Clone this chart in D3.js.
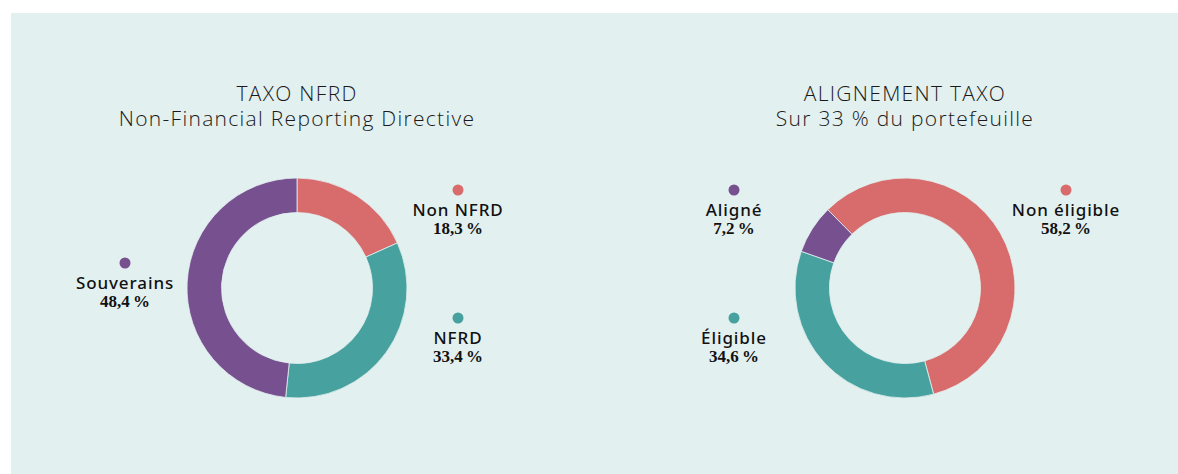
<!DOCTYPE html>
<html>
<head>
<meta charset="utf-8">
<script src="https://cdn.jsdelivr.net/npm/d3@7"></script>
<style>
  html, body { margin: 0; padding: 0; background: #fff; }
  svg { display: block; }
</style>
</head>
<body>
<svg id="chart" width="1178" height="474"></svg>
<script>
// Data
var nfrdLabels = ['Non NFRD', 'NFRD', 'Souverains'];
var nfrdValues = [18.3, 33.4, 48.4];
var alignLabels = ['Non éligible', 'Éligible', 'Aligné'];
var alignValues = [58.2, 34.6, 7.2];
var chartTitles = [
  ['TAXO NFRD', 'Non-Financial Reporting Directive'],
  ['ALIGNEMENT TAXO', 'Sur 33 % du portefeuille']
];

var colors = {
  'Non NFRD': '#d86c6c', 'NFRD': '#47a29f', 'Souverains': '#77508f',
  'Non éligible': '#d86c6c', 'Éligible': '#47a29f', 'Aligné': '#77508f'
};

// label anchors (dot centre), offset from donut centre
var labelOffsets = {
  'Non NFRD': [161, -98], 'NFRD': [161, 30], 'Souverains': [-172, -25],
  'Non éligible': [161, -98], 'Éligible': [-171, 30], 'Aligné': [-171, -98]
};

var charts = [
  { cx: 297, labels: nfrdLabels, values: nfrdValues, start: 0, titles: chartTitles[0] },
  { cx: 905, labels: alignLabels, values: alignValues, start: -44.6, titles: chartTitles[1] }
];

var svg = d3.select('#chart');
var cy = 288, outerR = 110, innerR = 75.5;

svg.append('rect')
  .attr('x', 11).attr('y', 13)
  .attr('width', 1178 - 11).attr('height', 474 - 13)
  .attr('fill', '#e3f0f0');

var fmt = function (v) { return d3.format('.1f')(v).replace('.', ',') + '\u202f%'; };

charts.forEach(function (c) {
  var g = svg.append('g').attr('transform', 'translate(' + c.cx + ',' + cy + ')');

  var rows = c.labels.map(function (l, i) { return { label: l, value: c.values[i] }; });
  var a0 = c.start * Math.PI / 180;
  var pie = d3.pie().sort(null).value(function (d) { return d.value; })
    .startAngle(a0).endAngle(a0 + 2 * Math.PI);
  var arc = d3.arc().innerRadius(innerR).outerRadius(outerR);

  g.selectAll('path.slice')
    .data(pie(rows))
    .enter().append('path')
    .attr('class', 'slice')
    .attr('d', arc)
    .attr('fill', function (d) { return colors[d.data.label]; })
    .attr('stroke', '#e3f0f0')
    .attr('stroke-width', 0.8);

  // titles
  g.selectAll('text.title')
    .data(c.titles)
    .enter().append('text')
    .attr('class', 'title')
    .attr('text-anchor', 'middle')
    .attr('x', 0)
    .attr('y', function (d, i) { return -187 + i * 25; })
    .attr('font-family', '"Open Sans", sans-serif')
    .attr('font-weight', 300)
    .attr('font-size', 21)
    .attr('letter-spacing', 1.3)
    .attr('fill', '#1a1a1a')
    .text(function (d) { return d; });

  // labels
  var lab = g.selectAll('g.lab')
    .data(rows)
    .enter().append('g')
    .attr('class', 'lab')
    .attr('transform', function (d) {
      var o = labelOffsets[d.label];
      return 'translate(' + o[0] + ',' + o[1] + ')';
    });

  lab.append('circle')
    .attr('r', 5.5)
    .attr('fill', function (d) { return colors[d.label]; });

  lab.append('text')
    .attr('text-anchor', 'middle')
    .attr('y', 26)
    .attr('font-family', '"Noto Sans", sans-serif')
    .attr('font-weight', 500)
    .attr('font-size', 17)
    .attr('letter-spacing', 0.9)
    .attr('fill', '#111')
    .text(function (d) { return d.label; });

  lab.append('text')
    .attr('text-anchor', 'middle')
    .attr('y', 44)
    .attr('font-family', '"Liberation Serif", serif')
    .attr('font-weight', 700)
    .attr('font-size', 17)
    .attr('fill', '#111')
    .text(function (d) { return fmt(d.value); });
});
</script>
</body>
</html>
